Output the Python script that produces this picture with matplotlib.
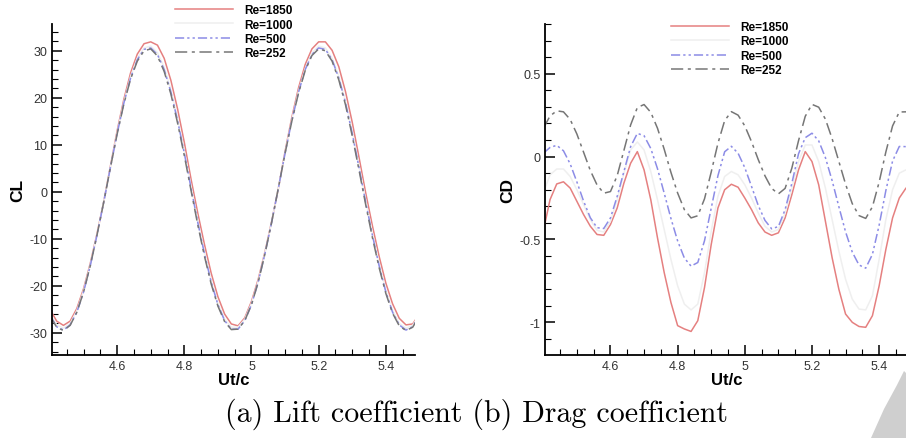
import matplotlib
matplotlib.use("Agg")
import matplotlib.pyplot as plt
from matplotlib.ticker import MultipleLocator
from matplotlib.patches import Polygon

# time samples
ut = [4.40, 4.42, 4.44, 4.46, 4.48, 4.50, 4.52, 4.54, 4.56, 4.58,
      4.60, 4.62, 4.64, 4.66, 4.68, 4.70, 4.72, 4.74, 4.76, 4.78,
      4.80, 4.82, 4.84, 4.86, 4.88, 4.90, 4.92, 4.94, 4.96, 4.98,
      5.00, 5.02, 5.04, 5.06, 5.08, 5.10, 5.12, 5.14, 5.16, 5.18,
      5.20, 5.22, 5.24, 5.26, 5.28, 5.30, 5.32, 5.34, 5.36, 5.38,
      5.40, 5.42, 5.44, 5.46, 5.48, 5.50]

labels = ["Re=1850", "Re=1000", "Re=500", "Re=252"]

# lift coefficient
cl_1850 = [-25.0, -27.5, -28.4, -27.5, -24.8, -20.6, -15.2, -8.9, -2.1, 5.5,
           13.0, 19.7, 25.3, 29.3, 31.5, 31.9, 31.2, 28.4, 23.7, 17.6,
           10.5, 2.7, -4.5, -11.2, -17.3, -22.3, -26.0, -28.1, -28.5, -26.8,
           -23.3, -18.6, -12.8, -6.3, 0.7, 8.6, 15.8, 22.1, 27.1, 30.4,
           31.9, 31.9, 30.1, 26.6, 21.3, 14.8, 7.4, -0.2, -7.2, -13.7,
           -19.4, -23.8, -26.9, -28.3, -28.1, -26.0]
cl_1000 = [-25.9, -28.3, -29.0, -28.0, -25.3, -21.0, -15.5, -9.1, -2.1, 5.3,
           12.6, 19.1, 24.5, 28.4, 30.6, 31.0, 29.6, 26.5, 21.7, 15.6,
           8.6, 1.1, -6.1, -12.9, -18.9, -23.7, -27.1, -28.8, -28.8, -27.1,
           -23.7, -19.0, -13.0, -6.4, 0.7, 8.3, 15.3, 21.4, 26.2, 29.5,
           31.0, 30.6, 28.4, 24.6, 19.2, 12.8, 5.6, -1.8, -8.8, -15.3,
           -20.9, -25.2, -28.0, -29.0, -28.4, -26.0]
cl_500 = [-26.3, -28.7, -29.4, -28.3, -25.6, -21.3, -15.7, -9.2, -2.2, 5.2,
          12.4, 18.9, 24.2, 28.1, 30.3, 30.6, 29.2, 26.0, 21.2, 15.1,
          8.2, 0.8, -6.5, -13.2, -19.2, -24.0, -27.4, -29.2, -29.2, -27.4,
          -24.0, -19.2, -13.2, -6.5, 0.8, 8.2, 15.1, 21.2, 26.0, 29.2,
          30.6, 30.3, 28.1, 24.2, 18.9, 12.4, 5.2, -2.2, -9.2, -15.7,
          -21.3, -25.6, -28.3, -29.4, -28.7, -26.3]
cl_252 = [-26.4, -28.8, -29.5, -28.4, -25.6, -21.3, -15.7, -9.2, -2.2, 5.2,
          12.3, 18.7, 24.0, 27.8, 30.0, 30.4, 28.9, 25.6, 20.8, 14.6,
          7.7, 0.3, -7.0, -13.7, -19.6, -24.3, -27.6, -29.3, -29.2, -27.4,
          -24.0, -19.2, -13.2, -6.5, 0.8, 8.2, 15.0, 21.0, 25.8, 29.0,
          30.4, 30.0, 27.8, 23.8, 18.5, 11.9, 4.7, -2.7, -9.7, -16.1,
          -21.6, -25.8, -28.5, -29.5, -28.8, -26.4]

# drag coefficient
cd_1850 = [-0.45, -0.26, -0.165, -0.152, -0.19, -0.27, -0.35, -0.42, -0.47, -0.475,
           -0.41, -0.31, -0.16, -0.04, 0.030, -0.08, -0.26, -0.49, -0.70, -0.88,
           -1.02, -1.04, -1.055, -0.99, -0.79, -0.53, -0.31, -0.20, -0.167, -0.185,
           -0.25, -0.32, -0.40, -0.455, -0.475, -0.46, -0.37, -0.23, -0.08, 0.030,
           -0.03, -0.17, -0.39, -0.61, -0.80, -0.95, -1.00, -1.025, -1.03, -0.96,
           -0.78, -0.56, -0.37, -0.25, -0.19, -0.17]
cd_1000 = [-0.22, -0.11, -0.075, -0.075, -0.12, -0.20, -0.29, -0.38, -0.445, -0.455,
           -0.39, -0.26, -0.10, 0.04, 0.088, 0.04, -0.09, -0.26, -0.44, -0.62,
           -0.78, -0.89, -0.925, -0.89, -0.70, -0.45, -0.24, -0.12, -0.09, -0.11,
           -0.17, -0.25, -0.34, -0.42, -0.455, -0.44, -0.34, -0.19, -0.03, 0.07,
           0.07, -0.03, -0.19, -0.38, -0.57, -0.74, -0.86, -0.92, -0.925, -0.84,
           -0.62, -0.38, -0.20, -0.10, -0.08, -0.09]
cd_500 = [0.02, 0.055, 0.068, 0.035, -0.044, -0.153, -0.269, -0.369, -0.429, -0.434,
          -0.37, -0.24, -0.09, 0.06, 0.140, 0.126, 0.049, -0.073, -0.221, -0.373,
          -0.509, -0.612, -0.661, -0.639, -0.508, -0.311, -0.115, 0.029, 0.062, 0.020,
          -0.067, -0.180, -0.295, -0.385, -0.436, -0.422, -0.320, -0.162, 0.017, 0.114,
          0.141, 0.095, -0.006, -0.145, -0.302, -0.454, -0.576, -0.654, -0.673, -0.590,
          -0.414, -0.205, -0.027, 0.061, 0.060, 0.035]
cd_252 = [0.17, 0.245, 0.276, 0.270, 0.224, 0.136, 0.026, -0.084, -0.171, -0.221,
          -0.211, -0.115, 0.037, 0.191, 0.296, 0.314, 0.267, 0.171, 0.044, -0.095,
          -0.220, -0.320, -0.370, -0.357, -0.255, -0.093, 0.080, 0.217, 0.271, 0.250,
          0.185, 0.090, -0.018, -0.116, -0.192, -0.225, -0.192, -0.070, 0.096, 0.243,
          0.315, 0.298, 0.226, 0.108, -0.029, -0.166, -0.284, -0.356, -0.373, -0.303,
          -0.154, 0.028, 0.185, 0.269, 0.270, 0.255]

colors = ["#e58080", "#efefef", "#8c8ce6", "#767676"]
dashes = [None, None, (6, 2, 1.5, 2, 1.5, 2), (8, 3, 2, 3)]

plt.rcParams["font.family"] = ["Liberation Sans", "DejaVu Sans"]

fig = plt.figure(figsize=(9.06, 4.39), dpi=100)
ax1 = fig.add_axes([0.0574, 0.1891, 0.4007, 0.7540])
ax2 = fig.add_axes([0.6019, 0.1891, 0.4007, 0.7540])


def draw(ax, series, ylabel, ylim, ymaj, ymin, leg_xy):
    for s, c, d, lab in zip(series, colors, dashes, labels):
        line, = ax.plot(ut, s, color=c, lw=1.1, label=lab)
        if d is not None:
            line.set_dashes(d)
    ax.set_xlim(4.406, 5.487)
    ax.set_ylim(*ylim)
    ax.xaxis.set_major_locator(MultipleLocator(0.2))
    ax.xaxis.set_minor_locator(MultipleLocator(0.05))
    ax.yaxis.set_major_locator(MultipleLocator(ymaj))
    ax.yaxis.set_minor_locator(MultipleLocator(ymin))
    ax.xaxis.set_major_formatter(plt.FuncFormatter(lambda v, p: ("%g" % round(v, 2))))
    ax.yaxis.set_major_formatter(plt.FuncFormatter(lambda v, p: ("%g" % round(v, 2))))
    for side in ["top", "right"]:
        ax.spines[side].set_visible(False)
    for side in ["left", "bottom"]:
        ax.spines[side].set_linewidth(1.3)
    ax.tick_params(which="major", direction="in", length=7, width=1.1,
                   labelsize=9, labelcolor="#333333", pad=3.5)
    ax.tick_params(which="minor", direction="in", length=4, width=0.8)
    ax.set_xlabel("Ut/c", fontsize=12, fontweight="bold", labelpad=0)
    ax.set_ylabel(ylabel, fontsize=12.5, fontweight="bold", labelpad=3)
    ax.legend(loc="upper left", bbox_to_anchor=leg_xy, bbox_transform=fig.transFigure,
              frameon=False, borderpad=0, borderaxespad=0, handlelength=4.9,
              handletextpad=1.0, labelspacing=0.2,
              prop={"weight": "bold", "size": 8.5})


draw(ax1, [cl_1850, cl_1000, cl_500, cl_252], "CL", (-34.7, 35.7), 10, 2, (0.193, 0.988))
draw(ax2, [cd_1850, cd_1000, cd_500, cd_252], "CD", (-1.197, 0.8), 0.5, 0.1, (0.7406, 0.950))

fig.text(0.526, 0.039, "(a) Lift coefficient (b) Drag coefficient",
         ha="center", va="baseline", fontsize=21.5, family="cmr10")

# grey page watermark corner
corner = [(904, 372), (906, 374), (906, 439), (871, 439), (884, 410), (897, 386)]
fig.patches.append(Polygon([(px / 906, 1 - py / 439) for px, py in corner],
                           closed=True, transform=fig.transFigure,
                           facecolor="#cfcfcf", edgecolor="none"))

fig.savefig("out.png", dpi=100)
